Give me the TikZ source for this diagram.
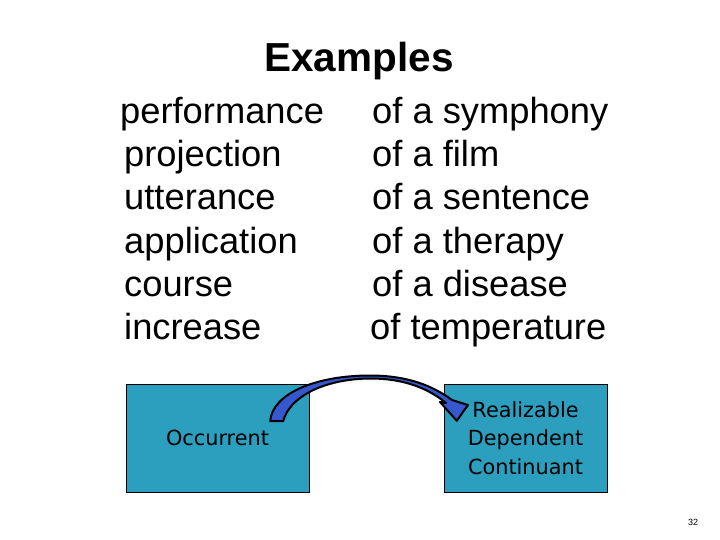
\documentclass[tikz,border=0pt]{standalone}
\usepackage{fontspec}
\setmainfont{Liberation Sans}
\newfontfamily\boxfont{DejaVu Sans}
\usepackage{tikz}
\usetikzlibrary{positioning,calc}
\definecolor{Teal}{HTML}{2C9FBF}
\definecolor{ArrowBlue}{HTML}{3658CC}

\tikzset{
  word/.style={anchor=base west,inner sep=0pt,font=\fontsize{36.3}{43}\selectfont},
  kind/.style={draw=black,fill=Teal,inner sep=0pt,align=center,
    font=\boxfont\fontsize{20.8}{28.5}\selectfont}
}

\begin{document}
\begin{tikzpicture}[x=1pt,y=-1pt]
\useasboundingbox (0,0) rectangle (720,540);
\node[anchor=base,inner sep=0pt,font=\bfseries\fontsize{40.5}{48}\selectfont] (title) at (359,72) {Examples};
% left column
\node[word] (perf) at (120,124) {performance};
\node[word] (proj) at (124,167) {projection};
\node[word] (utt) at (124,210) {utterance};
\node[word] (appl) at (124,253) {application};
\node[word] (cour) at (124,296) {course};
\node[word] (incr) at (124,339) {increase};
% right column
\node[word] (symph) at (372,124) {of a symphony};
\node[word] (film) at (372,167) {of a film};
\node[word] (sent) at (372,210) {of a sentence};
\node[word] (ther) at (372,253) {of a therapy};
\node[word] (dis) at (372,296) {of a disease};
\node[word] (temp) at (370,339) {of temperature};
% boxes
\node[kind,minimum width=183,minimum height=108] (occ) at (217.5,438) {Occurrent};
\node[kind,minimum width=163,minimum height=108] (rdc) at (525.5,438) {Realizable\\Dependent\\Continuant};
% curved block arrow
\coordinate (s1) at ($(occ.south east)+(-39,-71)$);
\coordinate (s2) at ($(occ.south east)+(-26,-71)$);
\coordinate (tip) at ($(rdc.north west)+(13,37)$);
\draw[line width=2pt,fill=ArrowBlue,line join=round]
  (s1) .. controls (272,394) and (315,375.5) .. (370,375.5)
  .. controls (408,375.5) and (433,386) .. (452,400)
  -- (468,405) -- (tip) -- (440,402) -- (446,403)
  .. controls (430,390) and (407,378.5) .. (370,378.5)
  .. controls (322,379) and (289,398) .. (s2) -- cycle;
\node[font=\fontsize{9}{10}\selectfont] (page) at (693,522) {32};
\end{tikzpicture}
\end{document}
